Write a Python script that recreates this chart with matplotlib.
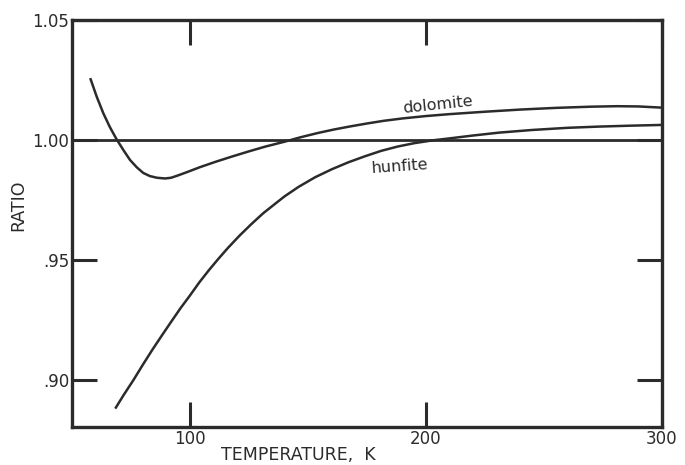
import numpy as np
import matplotlib.pyplot as plt

# dolomite curve (temperature K, ratio)
dol_T = [57.9, 60.5, 63.3, 66, 68.9, 72, 74.6, 77.5, 80.2, 83, 86, 89.4, 92,
         95, 98.6, 104.2, 111, 118, 125, 132, 140, 147, 154, 161, 168, 175,
         182, 190, 200, 210, 225, 240, 255, 270, 281, 290, 300]
dol_R = [1.0253, 1.0180, 1.0111, 1.0055, 1.0003, 0.9955, 0.9917, 0.9886,
         0.9863, 0.9850, 0.9843, 0.9840, 0.9843, 0.9853, 0.9866, 0.9887,
         0.9910, 0.9932, 0.9953, 0.9973, 0.9993, 1.0012, 1.0029, 1.0044,
         1.0057, 1.0069, 1.0080, 1.0090, 1.0100, 1.0108, 1.0118, 1.0127,
         1.0134, 1.0139, 1.0141, 1.0140, 1.0135]

# hunfite curve
hun_T = [68.6, 72, 76, 80, 84, 88, 92, 96, 100, 104, 108, 112, 116, 121, 126,
         131, 136, 140, 146, 153, 160, 167, 174, 181, 188, 195, 203, 210, 220,
         231, 245, 260, 273, 287, 300]
hun_R = [0.8886, 0.8940, 0.9000, 0.9064, 0.9126, 0.9185, 0.9243, 0.9300,
         0.9353, 0.9408, 0.9458, 0.9505, 0.9550, 0.9602, 0.9650, 0.9695,
         0.9734, 0.9765, 0.9805, 0.9845, 0.9878, 0.9907, 0.9932, 0.9955,
         0.9973, 0.9987, 0.9999, 1.0007, 1.0019, 1.0031, 1.0042, 1.0051,
         1.0056, 1.0060, 1.0063]

xticks = [100, 200, 300]
yticks = [0.90, 0.95, 1.00, 1.05]
ytick_labels = ['.90', '.95', '1.00', '1.05']

ink = '#2b2b2b'
plt.rcParams['font.family'] = 'DejaVu Sans'

fig = plt.figure(figsize=(6.85, 4.65), dpi=100)
ax = fig.add_axes([0.1051, 0.0817, 0.8613, 0.8753])

ax.axhline(1.0, color=ink, lw=2.0)
ax.plot(dol_T, dol_R, color=ink, lw=1.8)
ax.plot(hun_T, hun_R, color=ink, lw=1.8)

ax.set_xlim(50, 300)
ax.set_ylim(0.8805, 1.05)

ax.set_xticks(xticks)
ax.set_xticklabels([str(t) for t in xticks])
ax.set_yticks(yticks)
ax.set_yticklabels(ytick_labels)
ax.tick_params(direction='in', length=18, width=2.2, color=ink,
               top=True, right=True, labelsize=12, labelcolor=ink, pad=2)

for s in ax.spines.values():
    s.set_linewidth(2.4)
    s.set_color(ink)

ax.text(205, 1.0146, 'dolomite', fontsize=11.5, color=ink, rotation=6,
        ha='center', va='center')
ax.text(189, 0.9888, 'hunfite', fontsize=11.5, color=ink, rotation=4,
        ha='center', va='center')

fig.text(221 / 685, 1 - 455 / 465, 'TEMPERATURE,  K', fontsize=12.5,
         color=ink, ha='left', va='center')
fig.text(18 / 685, 1 - 205 / 465, 'RATIO', fontsize=12.5, color=ink,
         rotation=90, ha='center', va='center')

fig.savefig('out.png', dpi=100)
